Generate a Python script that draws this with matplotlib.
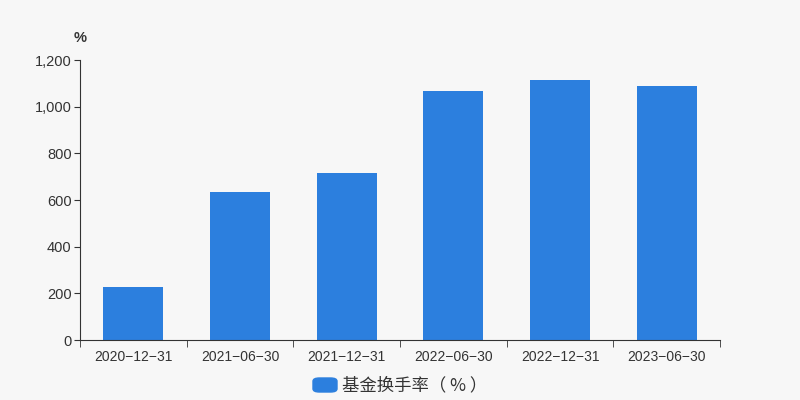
import matplotlib.pyplot as plt
from matplotlib.patches import FancyBboxPatch
from matplotlib.ticker import FuncFormatter
import numpy as np

plt.rcParams['font.family'] = ['Liberation Sans', 'Noto Sans CJK SC', 'DejaVu Sans']

dates = ["2020-12-31", "2021-06-30", "2021-12-31", "2022-06-30", "2022-12-31", "2023-06-30"]
turnover = [226, 636, 714, 1068, 1113, 1087]

bg = "#f7f7f7"
bar_color = "#2c7fde"
txt = "#333333"

fig = plt.figure(figsize=(8, 4), dpi=100, facecolor=bg)
ax = fig.add_axes([0.1, 0.15, 0.8, 0.7], facecolor=bg)

x = np.arange(len(dates))
ax.bar(x, turnover, width=0.56, color=bar_color)

ax.set_xlim(-0.5, len(dates) - 0.5)
ax.set_ylim(0, 1200)
ax.set_yticks(np.arange(0, 1201, 200))
ax.yaxis.set_major_formatter(FuncFormatter(lambda v, p: f"{int(v):,}"))

ax.set_xticks(x)
ax.set_xticklabels([d.replace("-", "\u2212") for d in dates])
ax.set_xticks(np.arange(-0.5, len(dates), 1), minor=True)
ax.tick_params(axis="x", which="major", length=0, pad=7, labelsize=10, labelcolor=txt)
ax.tick_params(axis="x", which="minor", length=5, color=txt)
ax.tick_params(axis="y", length=4, color=txt, labelsize=10.5, labelcolor=txt, pad=2)

for s in ["top", "right"]:
    ax.spines[s].set_visible(False)
for s in ["left", "bottom"]:
    ax.spines[s].set_color(txt)

fig.text(0.092, 0.905, "%", fontsize=10.5, color=txt, ha="left", va="center", fontweight="bold")

# legend
fig.patches.append(FancyBboxPatch((313 / 800, 8 / 400), 24 / 800, 14 / 400,
                                  boxstyle="round,pad=0,rounding_size=0.008",
                                  transform=fig.transFigure, color=bar_color))
fig.text(342 / 800, 15 / 400, "基金换手率（ % ）", fontsize=12.5, color=txt,
         ha="left", va="center", family=['Noto Sans CJK SC', 'DejaVu Sans'])

fig.savefig("out.png", dpi=100, facecolor=bg)
